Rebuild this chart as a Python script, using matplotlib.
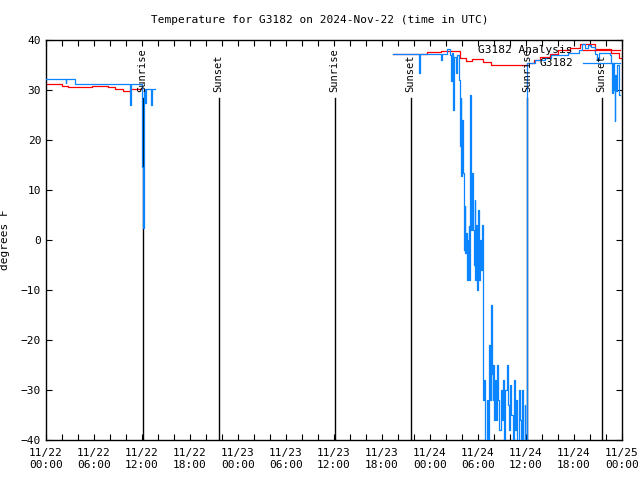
import numpy as np
import pandas as pd
import matplotlib
matplotlib.use("Agg")
import matplotlib.pyplot as plt
import matplotlib.dates as mdates

# hours since 2024-11-22 00:00 UTC
start = pd.Timestamp("2024-11-22 00:00")

obs1_h = [0.0, 2.45, 2.55, 3.6, 10.5, 10.65, 11.95, 12.0, 12.1, 12.25, 12.35, 12.5, 13.1, 13.25, 13.6]
obs1_t = [32.1, 31.4, 32.1, 31.2, 27.0, 31.2, 30.1, 14.6, 2.4, 30.1, 27.4, 30.1, 27.0, 30.1, 30.1]

obs2_h = [43.45, 46.69, 46.8, 49.44, 49.56, 50.19, 50.56, 50.7, 50.81, 50.95, 51.06, 51.25,
          51.4, 51.6, 51.75, 51.85, 51.95, 52.05, 52.15, 52.25, 52.35, 52.45, 52.55, 52.65,
          52.75, 52.85, 52.95, 53.05, 53.12, 53.2, 53.3, 53.4, 53.5, 53.6, 53.7, 53.8, 53.9,
          54.0, 54.1, 54.2, 54.3, 54.4, 54.5, 54.6, 54.68, 54.75, 54.85, 54.95, 55.1, 55.25,
          55.35, 55.45, 55.55, 55.65, 55.75, 55.85, 55.95, 56.05, 56.15, 56.3, 56.45, 56.55,
          56.7, 56.85, 57.0, 57.15, 57.3, 57.45, 57.6, 57.75, 57.9, 58.05, 58.2, 58.35, 58.5,
          58.65, 58.8, 58.95, 59.1, 59.25, 59.4, 59.55, 59.7, 59.85, 59.95, 60.15, 61.2, 62.4,
          63.2, 65.3, 66.6, 67.0, 67.4, 67.8, 68.2, 68.7, 68.9, 69.1, 70.5, 70.6, 70.75, 70.9,
          71.0, 71.1, 71.2, 71.3, 71.45, 71.6, 71.75]
obs2_t = [37.2, 33.4, 37.2, 36.0, 37.2, 38.1, 37.0, 31.7, 37.3, 26.0, 36.5, 33.4,
          37.0, 32.0, 18.7, 28.4, 12.7, 24.0, 13.3, -2.0, 6.7, -2.7, 1.3, -8.0,
          0.0, 2.7, -8.0, 29.0, 8.0, 2.0, 13.3, 2.0, -5.0, 8.0, -8.0, 3.0, -10.0,
          6.0, -3.0, -8.0, 0.0, -6.0, 3.0, -9.0, -32.0, -28.0, -36.0, -42.0, -32.0, -42.0,
          -28.0, -21.0, -32.0, -13.0, -26.7, -32.0, -25.0, -36.0, -28.0, -36.0, -25.0, -32.0,
          -38.0, -30.0, -36.0, -28.0, -42.0, -30.0, -25.0, -33.0, -38.0, -29.0, -35.0, -42.0, -28.0,
          -38.0, -32.0, -42.0, -30.0, -36.0, -42.0, -30.0, -42.0, -33.0, -42.0, 35.4, 36.0, 36.3,
          36.9, 37.4, 37.9, 39.1, 38.4, 38.9, 38.6, 37.2, 36.0, 37.3, 36.9, 35.4, 29.4, 35.4,
          30.0, 23.8, 33.0, 29.7, 35.0, 29.0, 29.0]

ana1_h = [0.0, 1.96, 2.8, 5.7, 7.8, 8.6, 9.65, 10.5, 11.95]
ana1_t = [31.2, 30.8, 30.5, 30.8, 30.5, 30.2, 29.8, 30.1, 30.1]

ana2_h = [43.45, 47.7, 49.4, 51.8, 52.5, 53.3, 54.6, 55.6, 60.2, 61.0, 61.8, 63.0, 64.0,
          65.5, 66.8, 68.6, 70.6, 71.6, 71.9]
ana2_t = [37.2, 37.5, 37.8, 36.3, 35.8, 36.1, 35.5, 35.0, 35.4, 36.0, 36.5, 37.2, 38.0,
          38.4, 39.1, 38.2, 37.4, 36.4, 36.4]

sun_h = [12.1, 21.6, 36.1, 45.6, 60.2, 69.5]
sun_lbl = ["Sunrise", "Sunset", "Sunrise", "Sunset", "Sunrise", "Sunset"]


def to_time(hours):
    return start + pd.to_timedelta(hours, unit="h")


mono = "DejaVu Sans Mono"
blue = "#0a84ff"
red = "#ff0000"

fig = plt.figure(figsize=(6.4, 4.8), dpi=100)
ax = fig.add_axes([46 / 640, 40 / 480, (621.7 - 46) / 640, 400 / 480])

for h, lbl in zip(sun_h, sun_lbl):
    t = to_time(h)
    ax.plot([t, t], [28.3, -40], color="black", lw=1.0, zorder=1)
    ax.text(t, 29.6, lbl, rotation=90, ha="center", va="bottom",
            family=mono, fontsize=7.5, zorder=4)

ax.plot(to_time(ana1_h), ana1_t, color=red, lw=0.9, drawstyle="steps-post", zorder=2)
ax.plot(to_time(ana2_h), ana2_t, color=red, lw=0.9, drawstyle="steps-post", zorder=2)
ax.plot(to_time(obs1_h), obs1_t, color=blue, lw=0.9, drawstyle="steps-post", zorder=3)
ax.plot(to_time(obs2_h), obs2_t, color=blue, lw=0.9, drawstyle="steps-post", zorder=3)

# key, gnuplot style: right-justified text, sample to the right
keys = [("G3182 Analysis", red), ("G3182", blue)]
for i, (name, col) in enumerate(keys):
    yk = 1 - (10.5 + 12.5 * i) / 400
    ax.text(0.915, yk, name, transform=ax.transAxes, ha="right", va="center",
            family=mono, fontsize=8, zorder=5)
    ax.plot([0.932, 0.997], [yk, yk], transform=ax.transAxes, color=col, lw=0.9, zorder=5)

ax.set_xlim(start, start + pd.Timedelta(hours=72))
ax.set_ylim(-40, 40)
ax.set_yticks(np.arange(-40, 41, 10))
ax.xaxis.set_major_locator(mdates.HourLocator(byhour=[0, 6, 12, 18]))
ax.xaxis.set_minor_locator(mdates.HourLocator(byhour=range(0, 24, 2)))
ax.xaxis.set_major_formatter(mdates.DateFormatter("%m/%d\n%H:%M"))
ax.tick_params(axis="both", which="both", direction="in", top=True, right=True,
               width=0.8, color="black", length=4)
ax.tick_params(axis="x", pad=6)
for lab in ax.get_xticklabels() + ax.get_yticklabels():
    lab.set_family(mono)
    lab.set_fontsize(8)
for s in ax.spines.values():
    s.set_linewidth(1.0)

ax.set_ylabel("degrees F", family=mono, fontsize=8)
ax.yaxis.set_label_coords(-36 / 575.7, 0.5)
fig.text(0.5, 1 - 20 / 480, "Temperature for G3182 on 2024-Nov-22 (time in UTC)",
         ha="center", va="center", family=mono, fontsize=8)

fig.savefig("out.png", dpi=100)
